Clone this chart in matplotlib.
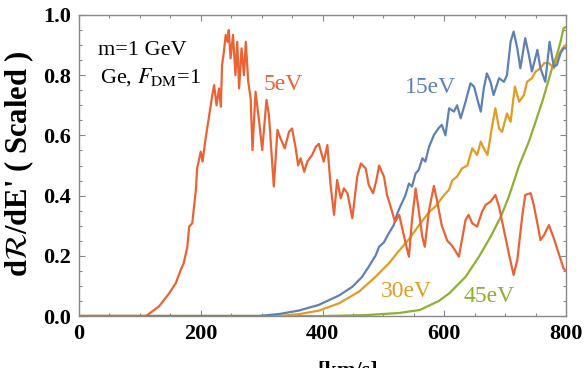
import numpy as np
import matplotlib
matplotlib.use("Agg")
from matplotlib import pyplot as plt
from matplotlib.ticker import MultipleLocator

plt.rcParams['font.family'] = ['Liberation Serif', 'DejaVu Serif']
plt.rcParams['mathtext.fontset'] = 'stix'

# 5eV curve
v5 = [0, 110, 131, 148, 159, 167, 172, 178, 181, 186, 192, 194, 200, 203, 208, 214, 219,
      222, 226, 230, 233, 235, 238, 241, 244, 246, 249, 253, 257, 260, 263, 267, 271, 274,
      278, 282, 285, 290, 296, 301, 308, 312, 315, 320, 326, 331, 338, 345, 350, 356, 360,
      364, 370, 375, 383, 389, 394, 402, 408, 413, 419, 424, 430, 435, 441, 449, 457, 463,
      471, 476, 483, 488, 493, 501, 506, 512, 519, 526, 531, 538, 542, 547, 553, 558, 564,
      568, 575, 583, 588, 596, 605, 613, 619, 624, 629, 635, 640, 646, 654, 662, 668, 676,
      684, 690, 698, 706, 714, 720, 728, 733, 742, 747, 753, 758, 764, 772, 780, 788, 796,
      800]
y5 = [0, 0, 0.031, 0.075, 0.109, 0.153, 0.175, 0.23, 0.297, 0.308, 0.419, 0.49, 0.546,
      0.513, 0.59, 0.668, 0.734, 0.767, 0.70, 0.756, 0.695, 0.834, 0.878, 0.934, 0.911, 0.95,
      0.856, 0.934, 0.80, 0.911, 0.756, 0.889, 0.80, 0.911, 0.778, 0.723, 0.551, 0.745, 0.645,
      0.551, 0.718, 0.668, 0.579, 0.43, 0.618, 0.59, 0.557, 0.612, 0.623, 0.557, 0.50, 0.524,
      0.479, 0.513, 0.535, 0.562, 0.572, 0.513, 0.568, 0.44, 0.336, 0.452, 0.391, 0.424,
      0.408, 0.325, 0.463, 0.507, 0.49, 0.435, 0.408, 0.446, 0.50, 0.463, 0.402, 0.363, 0.313,
      0.336, 0.291, 0.23, 0.197, 0.319, 0.424, 0.352, 0.263, 0.23, 0.352, 0.432, 0.385, 0.30,
      0.25, 0.233, 0.214, 0.197, 0.252, 0.319, 0.336, 0.308, 0.297, 0.346, 0.369, 0.38,
      0.402, 0.363, 0.286, 0.208, 0.136, 0.186, 0.33, 0.402, 0.408, 0.369, 0.308, 0.252,
      0.269, 0.302, 0.258, 0.208, 0.158, 0.15]

# 15eV curve
v15 = [0, 296, 330, 361, 394, 427, 449, 465, 476, 487, 493, 501, 509, 517, 523, 528, 536,
       542, 547, 553, 558, 564, 569, 575, 583, 591, 596, 602, 608, 616, 621, 627, 635, 643,
       649, 654, 660, 665, 670, 676, 681, 690, 698, 703, 709, 714, 720, 725, 733, 739, 744,
       753, 758, 766, 773, 780, 785, 791, 796, 800]
y15 = [0, 0, 0.007, 0.018, 0.037, 0.068, 0.097, 0.13, 0.164, 0.2, 0.23, 0.245, 0.275, 0.302,
       0.341, 0.365, 0.40, 0.44, 0.43, 0.474, 0.485, 0.524, 0.513, 0.562, 0.601, 0.625, 0.635,
       0.60, 0.69, 0.679, 0.70, 0.657, 0.712, 0.773, 0.762, 0.723, 0.679, 0.756, 0.806, 0.778,
       0.734, 0.79, 0.778, 0.80, 0.911, 0.945, 0.889, 0.823, 0.923, 0.867, 0.812, 0.884,
       0.823, 0.778, 0.911, 0.828, 0.834, 0.873, 0.889, 0.89]

# 30eV curve
v30 = [0, 330, 361, 394, 427, 460, 487, 509, 525, 542, 558, 575, 586, 599, 608, 613, 621,
       629, 638, 646, 654, 660, 665, 671, 679, 684, 690, 695, 703, 709, 716, 723, 731, 736,
       744, 750, 758, 764, 772, 780, 785, 794, 800]
y30 = [0, 0, 0.006, 0.018, 0.042, 0.081, 0.13, 0.175, 0.215, 0.255, 0.30, 0.345, 0.365,
       0.40, 0.42, 0.45, 0.463, 0.49, 0.50, 0.557, 0.535, 0.579, 0.557, 0.535, 0.635, 0.69,
       0.623, 0.612, 0.673, 0.645, 0.762, 0.712, 0.734, 0.778, 0.79, 0.812, 0.823, 0.84,
       0.84, 0.823, 0.856, 0.889, 0.90]

# 45eV curve
v45 = [0, 400, 471, 526, 560, 591, 608, 635, 657, 676, 693, 706, 717, 723, 739, 750, 761,
       769, 777, 785, 791, 796, 800]
y45 = [0, 0, 0.003, 0.01, 0.02, 0.05, 0.075, 0.13, 0.197, 0.263, 0.33, 0.396, 0.463, 0.50,
       0.579, 0.645, 0.712, 0.767, 0.823, 0.867, 0.911, 0.956, 0.96]

c_red = '#EB6235'
c_blue = '#5E81B5'
c_orange = '#E19C24'
c_green = '#8FB032'

fig = plt.figure(figsize=(5.86, 3.68), dpi=100)
ax = fig.add_axes([79/586, 1 - 316/368, 487/586, 301/368])

ax.plot(v45, y45, color=c_green, lw=1.6)
ax.plot(v30, y30, color=c_orange, lw=1.6)
ax.plot(v15, y15, color=c_blue, lw=1.6)
ax.plot(v5, y5, color=c_red, lw=1.6)

ax.set_xlim(0, 800)
ax.set_ylim(0, 1.0)
ax.xaxis.set_major_locator(MultipleLocator(200))
ax.xaxis.set_minor_locator(MultipleLocator(50))
ax.yaxis.set_major_locator(MultipleLocator(0.2))
ax.yaxis.set_minor_locator(MultipleLocator(0.05))
ax.set_yticklabels(['%.1f' % t for t in ax.get_yticks()])
ax.tick_params(which='both', direction='in', top=True, right=True, color='#888888',
               labelsize=16, pad=6)
ax.tick_params(which='major', length=4, width=0.8)
ax.tick_params(which='minor', length=2.5, width=0.8)
for lab in ax.get_xticklabels() + ax.get_yticklabels():
    lab.set_fontweight('bold')
for sp in ax.spines.values():
    sp.set_color('#888888')
    sp.set_linewidth(1.0)

ax.set_ylabel(r"d$\mathbf{\mathcal{R}}$/dE' ( Scaled )", fontsize=19, fontweight='bold')
# fit the y label to the span it has in the original (about 227 px tall)
fig.canvas.draw()
h = ax.yaxis.label.get_window_extent().height
ax.yaxis.label.set_fontsize(19 * 227 / h)
ax.yaxis.set_label_coords((36 - 79) / 487, (316 - 163.5) / 301)

# x label sits mostly below the figure edge, as in the original
fig.text(348/586, 1 - 361/368, '[km/s]', fontsize=16, fontweight='bold', ha='center', va='top')

ax.text(32, 0.867, 'm=1 GeV', fontsize=16)
ax.text(35, 0.777, r'Ge, $F_{\mathrm{DM}}$=1', fontsize=16)
ax.text(304, 0.75, '5eV', fontsize=17, color=c_red)
ax.text(536, 0.74, '15eV', fontsize=17, color=c_blue)
ax.text(496, 0.063, '30eV', fontsize=17, color=c_orange)
ax.text(632, 0.047, '45eV', fontsize=17, color=c_green)

fig.savefig('out.png', dpi=100)
